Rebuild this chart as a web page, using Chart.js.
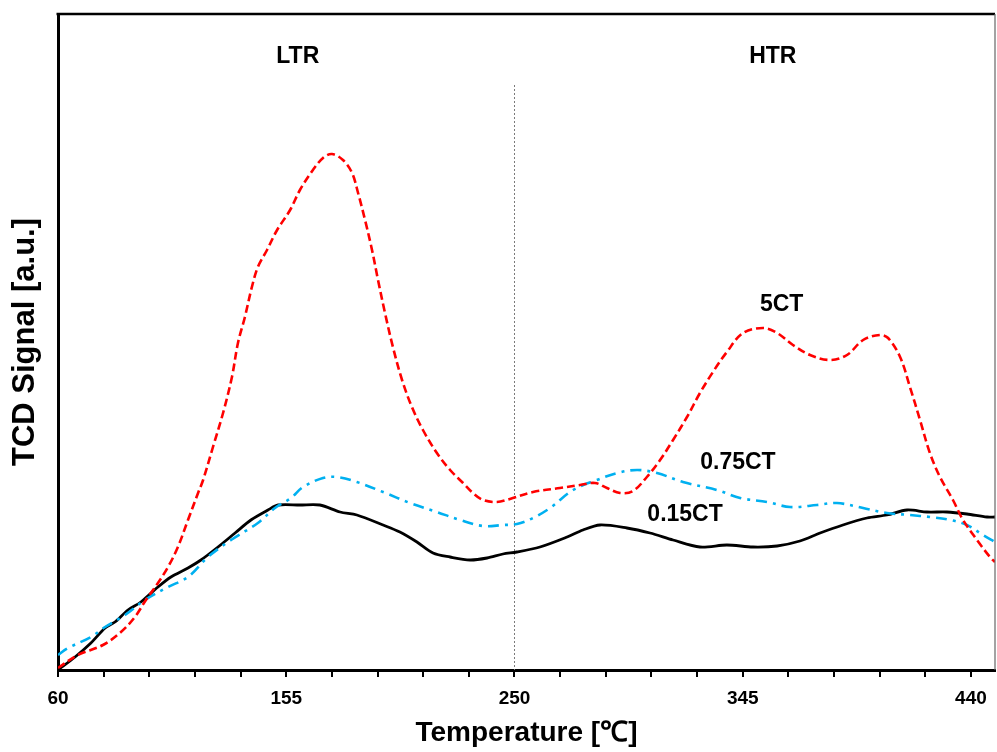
<!DOCTYPE html>
<html>
<head>
<meta charset="utf-8">
<script src="https://cdn.jsdelivr.net/npm/chart.js@4/dist/chart.umd.min.js"></script>
<style>
  html, body { margin: 0; padding: 0; background: #fff; }
  #wrap { width: 997px; height: 752px; }
</style>
</head>
<body>
<div id="wrap"><canvas id="c" width="997" height="752"></canvas></div>
<script>
// ---- data ----
const temp5CT = [60,68.3,78.7,86.2,92.0,96.6,101.6,105.8,109.9,114.1,118.3,120.4,124.5,128.7,132.4,134.9,137.8,140.7,143.2,147.0,151.2,156.6,160.7,166.1,170.3,174.0,178.6,182.4,184.9,187.8,190.7,193.2,196.1,199.4,203.2,207.3,211.9,217.7,223.2,228.6,232.7,236.9,242.7,248.1,257.7,268.9,277.3,283.5,288.5,293.9,299.3,305.1,310.6,316.0,321.8,327.2,332.6,338.4,345.1,353.4,359.3,365.9,373.0,381.3,388.4,395.1,402.1,405.5,410.5,414.6,418.8,422.9,427.1,432.5,436.7,442.5,447.9,450];
const signal5CT = [2,15,25,38,53,70,87,103,123,150,177,190,223,257,293,327,353,383,403,420,440,460,480,500,512,516,510,497,477,450,420,390,357,323,290,263,240,217,200,187,177,170,168,171,178,182,185,187,182,177,179,193,210,230,253,277,298,318,337,342,337,325,315,310,315,330,335,332,313,283,250,217,193,170,150,130,113,108];

const temp075CT = [60,64.2,73.7,79.6,87.9,96.2,105.8,114.1,122.4,132.0,143.2,150.3,157.0,162.0,170.3,176.1,184.4,195.3,206.5,217.7,227.3,236.9,245.2,251.0,257.7,264.8,274.4,284.3,292.7,301.0,309.3,320.1,334.3,343.9,355.1,364.7,375.9,384.2,395.1,405.0,414.6,422.9,431.3,438.3,445.0,450];
const signal075CT = [15,22,33,43,55,70,83,93,113,130,147,162,172,183,192,193,188,178,167,158,150,144,145,146,152,162,180,190,197,200,197,188,180,172,168,163,165,167,162,157,155,153,150,145,135,128];

const temp015CT = [60,67.1,73.7,79.6,83.7,89.1,94.5,101.6,107.0,114.1,119.5,126.6,133.7,140.3,147.4,151.6,160.7,169.0,177.4,184.4,195.3,202.3,209.4,216.1,223.2,231.5,238.6,245.2,251.0,260.6,271.9,278.5,285.6,296.8,306.4,316.0,327.2,338.4,349.3,359.3,368.8,377.2,386.7,396.7,405.0,413.4,421.7,430.0,438.3,446.7,450];
const signal015CT = [0,13,27,42,48,60,68,83,93,102,110,123,137,150,160,165,165,165,158,155,145,138,128,117,113,110,112,116,118,123,133,140,145,142,137,130,123,125,123,124,129,137,145,152,155,160,158,158,156,153,153];

const xTickLabels = [60, 155, 250, 345, 440];
const minorTicksPerMajor = 5;
const xMin = 60, xMax = 450;
const yMin = 0, yMax = 656;
const dividerTemp = 250;
const dividerTop = 585;

const annoTexts = ['LTR', 'HTR', '5CT', '0.75CT', '0.15CT'];
const annoTemps = [159.8, 357.5, 361.2, 343.0, 321.0];
const annoSignals = [613, 613, 365, 207, 155];

// ---- build ----
function pts(xs, ys) { return xs.map((x, i) => ({ x: x, y: ys[i] })); }

const tickValues = [];
const majorStep = xTickLabels[1] - xTickLabels[0];
xTickLabels.forEach((m, i) => {
  if (i < xTickLabels.length - 1) {
    for (let k = 0; k < minorTicksPerMajor; k++) tickValues.push(m + k * majorStep / minorTicksPerMajor);
  } else {
    tickValues.push(m);
  }
});

const FONT = "'Liberation Sans', Arial, Helvetica, sans-serif";

const decor = {
  id: 'decor',
  beforeDatasetsDraw(chart) {
    const { ctx, scales: { x, y } } = chart;
    const px = Math.round(x.getPixelForValue(dividerTemp)) + 0.5;
    ctx.save();
    ctx.strokeStyle = '#7a7a7a';
    ctx.lineWidth = 1;
    ctx.setLineDash([2, 2]);
    ctx.beginPath();
    ctx.moveTo(px, y.getPixelForValue(dividerTop));
    ctx.lineTo(px, y.getPixelForValue(yMin));
    ctx.stroke();
    ctx.restore();
  },
  afterDraw(chart) {
    const { ctx, chartArea: a, scales: { x, y } } = chart;
    ctx.save();
    ctx.strokeStyle = '#000';
    ctx.lineWidth = 2.5;
    ctx.beginPath();
    ctx.moveTo(a.left - 1.5, a.top);
    ctx.lineTo(a.right, a.top);
    ctx.stroke();
    ctx.strokeStyle = '#666';
    ctx.lineWidth = 1.2;
    ctx.beginPath();
    ctx.moveTo(a.right, a.top);
    ctx.lineTo(a.right, a.bottom);
    ctx.stroke();
    ctx.fillStyle = '#000';
    ctx.textAlign = 'center';
    ctx.textBaseline = 'middle';
    annoTexts.forEach((t, i) => {
      ctx.font = 'bold 23px ' + FONT;
      ctx.fillText(t, x.getPixelForValue(annoTemps[i]), y.getPixelForValue(annoSignals[i]));
    });
    ctx.restore();
  }
};

new Chart(document.getElementById('c'), {
  type: 'line',
  data: {
    datasets: [
      {
        label: '5CT',
        data: pts(temp5CT, signal5CT),
        borderColor: '#FF0000',
        borderWidth: 2.6,
        borderDash: [8, 4],
        pointRadius: 0,
        tension: 0.35,
        fill: false
      },
      {
        label: '0.75CT',
        data: pts(temp075CT, signal075CT),
        borderColor: '#00B0F0',
        borderWidth: 2.6,
        borderDash: [11, 6, 3, 6],
        pointRadius: 0,
        tension: 0.35,
        fill: false
      },
      {
        label: '0.15CT',
        data: pts(temp015CT, signal015CT),
        borderColor: '#000000',
        borderWidth: 2.8,
        pointRadius: 0,
        tension: 0.3,
        fill: false
      }
    ]
  },
  options: {
    responsive: false,
    animation: false,
    devicePixelRatio: 1,
    layout: { padding: { left: 0, right: 2, top: 14, bottom: 0 } },
    plugins: {
      legend: { display: false },
      tooltip: { enabled: false }
    },
    scales: {
      x: {
        type: 'linear',
        min: xMin,
        max: xMax,
        afterBuildTicks: (s) => { s.ticks = tickValues.map(v => ({ value: v })); },
        afterFit: (s) => { s.height = 82; },
        ticks: {
          autoSkip: false,
          maxRotation: 0,
          padding: 10,
          color: '#000',
          font: { family: FONT, size: 19, weight: 'bold' },
          callback: (v) => xTickLabels.includes(v) ? String(v) : ''
        },
        grid: {
          drawOnChartArea: false,
          drawTicks: true,
          tickLength: 7,
          lineWidth: 2,
          color: '#000'
        },
        border: { display: true, color: '#000', width: 3 },
        title: {
          display: true,
          text: 'Temperature [℃]',
          color: '#000',
          font: { family: FONT, size: 28, weight: 'bold', lineHeight: 1.2 },
          padding: { top: 0, bottom: 2 }
        }
      },
      y: {
        type: 'linear',
        min: yMin,
        max: yMax,
        afterFit: (s) => { s.width = 58; },
        ticks: { display: false },
        grid: { display: false, drawTicks: false },
        border: { display: true, color: '#000', width: 3 },
        title: {
          display: true,
          text: 'TCD Signal [a.u.]',
          color: '#000',
          font: { family: FONT, size: 31, weight: 'bold', lineHeight: 1.2 },
          padding: { top: 7, bottom: 0 }
        }
      }
    }
  },
  plugins: [decor]
});
</script>
</body>
</html>
